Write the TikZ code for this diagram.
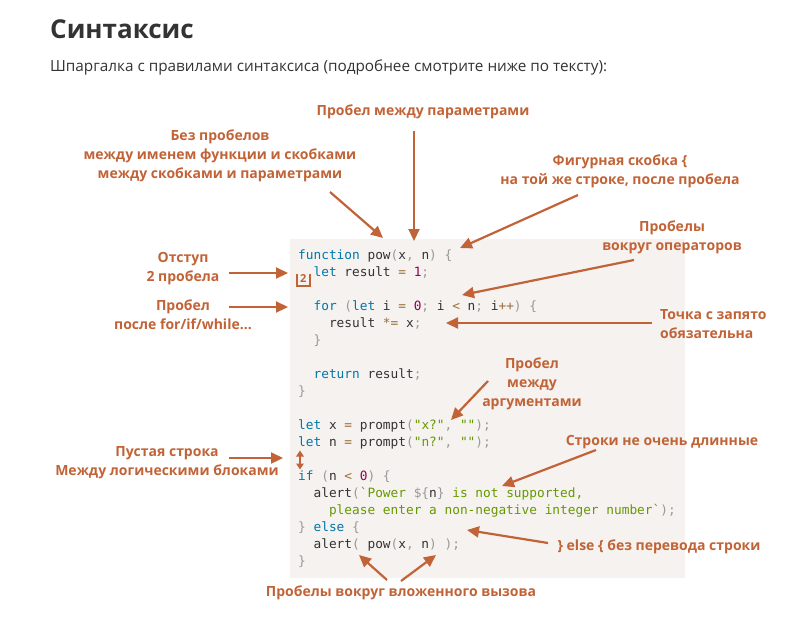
\documentclass[tikz,border=0pt]{standalone}
\usepackage{fontspec}
\setmainfont{Open Sans}
\newfontfamily\codefont{DejaVu Sans Mono}
\usetikzlibrary{arrows.meta}

\definecolor{notec}{RGB}{193,99,54}
\definecolor{codebg}{RGB}{245,242,240}
\definecolor{kwc}{RGB}{0,119,170}
\definecolor{puc}{RGB}{153,153,153}
\definecolor{nmc}{RGB}{153,0,85}
\definecolor{opc}{RGB}{154,110,58}
\definecolor{stc}{RGB}{102,153,0}
\definecolor{txc}{RGB}{51,51,51}

% подсветка кода
\newcommand{\kw}[1]{\textcolor{kwc}{#1}}
\newcommand{\pu}[1]{\textcolor{puc}{#1}}
\newcommand{\nm}[1]{\textcolor{nmc}{#1}}
\newcommand{\op}[1]{\textcolor{opc}{#1}}
\newcommand{\st}[1]{\textcolor{stc}{#1}}
\newcommand{\btick}{\symbol{96}}

\begin{document}
\begin{tikzpicture}[x=1pt, y=-1pt,
    codeline/.style={anchor=west, inner sep=0pt, text=txc,
        font=\codefont\fontsize{12.8}{14}\selectfont, text height=9pt, text depth=3pt},
    note/.style={align=center, inner sep=0pt, text=notec,
        font=\bfseries\fontsize{14}{19}\selectfont},
    notearrow/.style={-{Triangle[length=12pt,width=11pt]}, line width=2.2pt, draw=notec}]
    \useasboundingbox (0,0) rectangle (810,632);

    % заголовок
    \node[anchor=west, inner sep=0pt, text=txc, font=\bfseries\fontsize{26}{30}\selectfont] (title) at (50,29) {Синтаксис};
    \node[anchor=west, inner sep=0pt, text=txc, font=\fontsize{15.3}{18}\selectfont] (subtitle) at (50,67) {Шпаргалка с правилами синтаксиса (подробнее смотрите ниже по тексту):};

    % фон кода
    \fill[codebg] (290,239) rectangle (685,578);

    % строки кода
    \node[codeline] (c1) at (298,256) {\kw{function} pow\pu{(}x\pu{,} n\pu{)} \pu{\{}};
    \node[codeline] (c2) at (313.4,273) {\kw{let} result \op{=} \nm{1}\pu{;}};
    \node[codeline] (c4) at (313.4,307) {\kw{for} \pu{(}\kw{let} i \op{=} \nm{0}\pu{;} i \op{<} n\pu{;} i\op{++}\pu{)} \pu{\{}};
    \node[codeline] (c5) at (328.8,324) {result \op{*=} x\pu{;}};
    \node[codeline] (c6) at (313.4,341) {\pu{\}}};
    \node[codeline] (c8) at (313.4,375) {\kw{return} result\pu{;}};
    \node[codeline] (c9) at (298,392) {\pu{\}}};
    \node[codeline] (c11) at (298,426) {\kw{let} x \op{=} prompt\pu{(}\st{"x?"}\pu{,} \st{""}\pu{);}};
    \node[codeline] (c12) at (298,443) {\kw{let} n \op{=} prompt\pu{(}\st{"n?"}\pu{,} \st{""}\pu{);}};
    \node[codeline] (c14) at (298,477) {\kw{if} \pu{(}n \op{<} \nm{0}\pu{)} \pu{\{}};
    \node[codeline] (c15) at (313.4,494) {alert\pu{(}\st{\btick Power }\pu{\$\{}n\pu{\}} \st{is not supported,}};
    \node[codeline] (c16) at (328.8,511) {\st{please enter a non-negative integer number\btick}\pu{);}};
    \node[codeline] (c17) at (298,528) {\pu{\}} \kw{else} \pu{\{}};
    \node[codeline] (c18) at (313.4,545) {alert\pu{(} pow\pu{(}x\pu{,} n\pu{)} \pu{);}};
    \node[codeline] (c19) at (298,562) {\pu{\}}};

    % отступ: скобка с цифрой 2
    \draw[notec, line width=2pt] (297,273.5) -- (297,285.5) -- (309.5,285.5) -- (309.5,273.5);
    \node[inner sep=0pt, text=notec, font=\bfseries\fontsize{11}{11}\selectfont] (two) at (303.2,279) {2};

    % пустая строка между блоками
    \coordinate (gaptop) at (300,450.5);
    \coordinate (gapbot) at (300,469.5);
    \draw[{Triangle[length=6pt,width=7.5pt]}-{Triangle[length=6pt,width=7.5pt]}, line width=1.6pt, notec] (gaptop) -- (gapbot);

    % подписи
    \node[note] (nparams) at (423,112) {Пробел между параметрами};
    \node[note] (nnospace) at (220,156) {Без пробелов\\между именем функции и скобками\\между скобками и параметрами};
    \node[note] (nbrace) at (620,171.5) {Фигурная скобка \{\\на той же строке, после пробела};
    \node[note] (nops) at (672,237) {Пробелы\\вокруг операторов};
    \node[note, align=left, anchor=west] (nsemi) at (660,324) {Точка с запято\\обязательна};
    \node[note] (nindent) at (183,268.5) {Отступ\\2 пробела};
    \node[note] (nfor) at (183,315) {Пробел\\после for/if/while...};
    \node[note] (nargs) at (532,383.5) {Пробел\\между\\аргументами};
    \node[note] (nlong) at (662,442) {Строки не очень длинные};
    \node[note] (nempty) at (167,462.5) {Пустая строка\\Между логическими блоками};
    \node[note] (nelse) at (659,547) {\} else \{ без перевода строки};
    \node[note] (nnested) at (401,593) {Пробелы вокруг вложенного вызова};

    % начала стрелок
    \coordinate (sparams) at (414,131);
    \coordinate (snospace) at (330,192);
    \coordinate (sbrace) at (578,195);
    \coordinate (sops) at (634,260);
    \coordinate (ssemi) at (652,323);
    \coordinate (sindent) at (229,273);
    \coordinate (sfor) at (229,307);
    \coordinate (sargs) at (488,381);
    \coordinate (slong) at (596,450);
    \coordinate (sempty) at (229,458);
    \coordinate (selse) at (548,543);
    \coordinate (snestA) at (387,580);
    \coordinate (snestB) at (401,581);

    % концы стрелок
    \coordinate (tparams) at (414,241);
    \coordinate (tnospace) at (383,238);
    \coordinate (tbrace) at (460,248);
    \coordinate (tops) at (462,295);
    \coordinate (tsemi) at (446,323);
    \coordinate (tindent) at (288,273);
    \coordinate (tfor) at (288,307);
    \coordinate (targs) at (451,420);
    \coordinate (tlong) at (502,486);
    \coordinate (tempty) at (283,458);
    \coordinate (telse) at (467,530);
    \coordinate (tnestA) at (359,555);
    \coordinate (tnestB) at (436,555);

    % стрелки
    \foreach \n in {params, nospace, brace, ops, semi, indent, for, args, long, empty, else, nestA, nestB}
        \draw[notearrow] (s\n) -- (t\n);
\end{tikzpicture}
\end{document}
